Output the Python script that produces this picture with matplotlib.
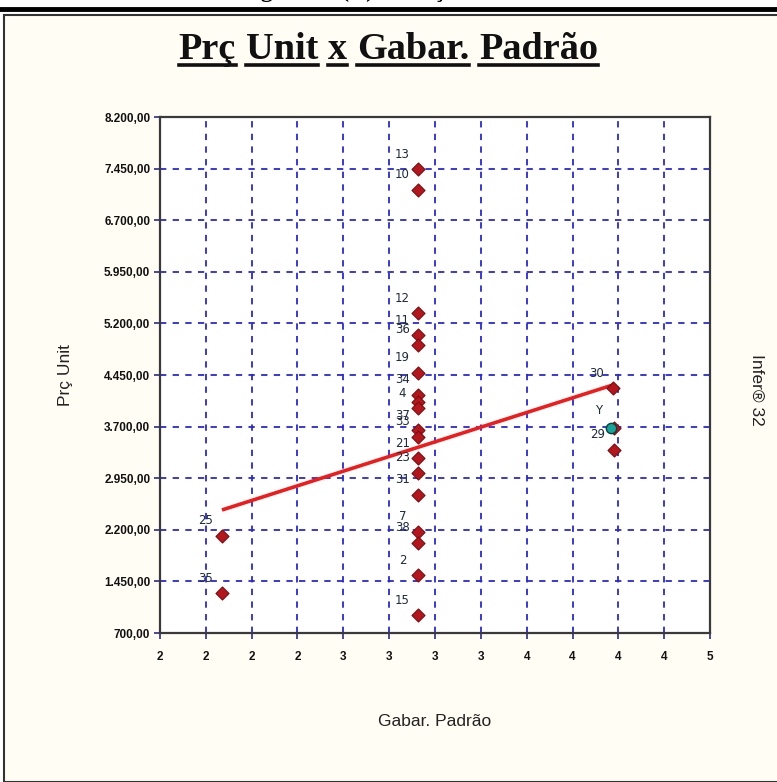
import numpy as np
import matplotlib
matplotlib.use("Agg")
import matplotlib.pyplot as plt
from matplotlib.patches import Rectangle
from matplotlib.lines import Line2D
from matplotlib.ticker import FuncFormatter, FixedLocator


# ------------------------------------------------------------
# Data
# ------------------------------------------------------------

# observed points (Gabar. Padrão, Prç Unit) with their sample ids
point_ids = ["13", "10", "12", "11", "36", "19", "34", "", "4", "37", "33",
             "21", "23", "31", "7", "38", "2", "15",
             "25", "35",
             "30", "", "29"]
gabarito = [3.41, 3.41, 3.41, 3.41, 3.41, 3.41, 3.41, 3.41, 3.41, 3.41, 3.41,
            3.41, 3.41, 3.41, 3.41, 3.41, 3.41, 3.41,
            2.338, 2.338,
            4.47, 4.475, 4.475]
preco = [7440, 7140, 5350, 5030, 4890, 4480, 4160, 4058, 3970, 3650, 3550,
         3240, 3030, 2710, 2170, 2010, 1540, 960,
         2110, 1280,
         4260, 3680, 3360]

# estimated value
estim_x = [4.462]
estim_y = [3680]
estim_label = ["Y"]

# fitted regression line
reg_x = [2.338, 4.47]
reg_y = [2488, 4305]

x_ticks = np.arange(2.0, 5.01, 0.25)
y_ticks = np.arange(700, 8201, 750)

TITLE_WORDS = ["Prç", "Unit", "x", "Gabar.", "Padrão"]


# ------------------------------------------------------------
# Helpers
# ------------------------------------------------------------

def br_number(v, pos=None):
    s = f"{v:,.2f}"
    return s.replace(",", "#").replace(".", ",").replace("#", ".")


def underlined_title(fig, words, y_px, size):
    renderer = fig.canvas.get_renderer()
    W, H = fig.bbox.width, fig.bbox.height
    kw = dict(fontsize=size, fontweight="bold", family="Liberation Serif",
              va="baseline", ha="left", color="#111111")

    # measure each word first to centre the whole line
    widths = []
    for w in words:
        t = fig.text(0, 0, w, **kw)
        widths.append(t.get_window_extent(renderer).width)
        t.remove()
    space = size * 0.36
    total = sum(widths) + space * (len(words) - 1)

    x = (W - total) / 2
    for w, wd in zip(words, widths):
        fig.text(x / W, 1 - y_px / H, w, **kw)
        fig.add_artist(Line2D([x / W, (x + wd) / W],
                              [1 - (y_px + 6) / H] * 2,
                              transform=fig.transFigure,
                              color="#111111", linewidth=2.6))
        x += wd + space


# ------------------------------------------------------------
# Figure
# ------------------------------------------------------------

fig = plt.figure(figsize=(7.77, 7.82), dpi=100)
fig.patch.set_facecolor("white")
W, H = 777, 782

# cropped header line of the page
fig.text(0.5, 1 - (-9) / H, "Gráficos da Regressão (Y)  –  Prç Unit x Gabar. Padrão",
         ha="center", va="center", fontsize=17, fontweight="bold",
         family="Liberation Serif", color="black")
fig.add_artist(Line2D([0, 1], [1 - 9 / H] * 2, transform=fig.transFigure,
                      color="black", linewidth=3.5))

# chart panel
fig.add_artist(Rectangle((4 / W, 0), 1, 1 - 15 / H, transform=fig.transFigure,
                         facecolor="#fffdf4", edgecolor="#333333",
                         linewidth=1.5, zorder=0))

underlined_title(fig, TITLE_WORDS, y_px=59, size=27.5)

ax = fig.add_axes([160 / W, 1 - 633 / H, 550 / W, 516 / H])
ax.set_facecolor("white")

ax.set_xlim(2.0, 5.0)
ax.set_ylim(700, 8200)
ax.xaxis.set_major_locator(FixedLocator(x_ticks))
ax.yaxis.set_major_locator(FixedLocator(y_ticks))
ax.xaxis.set_major_formatter(FuncFormatter(lambda v, p: f"{int(v + 1e-9)}"))
ax.yaxis.set_major_formatter(FuncFormatter(br_number))

ax.grid(True, color="#2a2ad2", linestyle=(0, (3.5, 3.5)), linewidth=1.3)
ax.set_axisbelow(True)

for spine in ax.spines.values():
    spine.set_color("#3a3a3a")
    spine.set_linewidth(1.6)

ax.tick_params(axis="both", length=4, width=1.2, color="#2a2a8a",
               labelsize=8.5, labelcolor="#111111")
ax.tick_params(axis="x", pad=9)
ax.tick_params(axis="y", pad=3)
for lab in ax.get_xticklabels() + ax.get_yticklabels():
    lab.set_fontweight("bold")
    lab.set_family("Liberation Sans")

# regression line
ax.plot(reg_x, reg_y, color="#ee1c1c", linewidth=2.6, zorder=3,
        solid_capstyle="butt")

# observed points
ax.scatter(gabarito, preco, marker="D", s=44, color="#b3161c",
           edgecolor="#7a0d10", linewidth=0.8, zorder=4)
for lab, xv, yv in zip(point_ids, gabarito, preco):
    if lab:
        ax.annotate(lab, (xv, yv), xytext=(-16, 15), textcoords="offset pixels",
                    ha="center", va="center", fontsize=8.5,
                    color="#1d2b3a", zorder=5)

# estimated point
ax.scatter(estim_x, estim_y, marker="o", s=55, color="#18a39a",
           edgecolor="#0b3f3c", linewidth=1.0, zorder=5)
for lab, xv, yv in zip(estim_label, estim_x, estim_y):
    ax.annotate(lab, (xv, yv), xytext=(-13, 17), textcoords="offset pixels",
                ha="center", va="center", fontsize=8.5, color="#1d2b3a")

ax.set_xlabel("Gabar. Padrão", fontsize=12.5, family="Liberation Sans",
              color="#222222", labelpad=37)
ax.set_ylabel("Prç Unit", fontsize=12.5, family="Liberation Sans",
              color="#222222", labelpad=22)

fig.text(757 / W, 1 - 390 / H, "Infer® 32", rotation=-90, ha="center",
         va="center", fontsize=12.5, family="Liberation Sans", color="#222222")

fig.savefig("out.png", dpi=100, facecolor=fig.get_facecolor())
